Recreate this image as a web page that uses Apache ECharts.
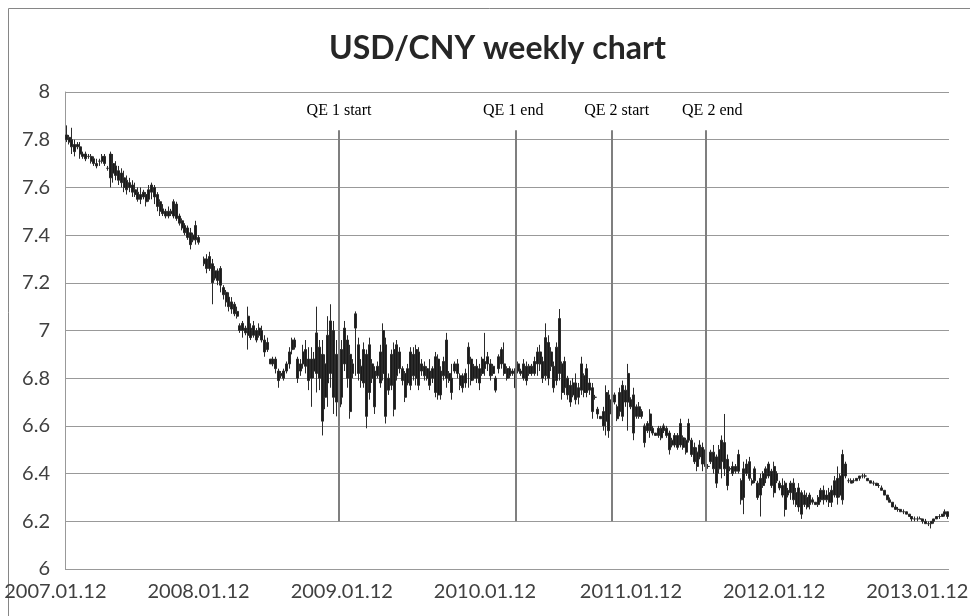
<!DOCTYPE html>
<html>
<head>
<meta charset="utf-8">
<title>USD/CNY weekly chart</title>
<script src="https://cdn.jsdelivr.net/npm/echarts@6/dist/echarts.min.js"></script>
<style>
html, body { margin: 0; padding: 0; background: #fff; }
#chart { width: 970px; height: 616px; }
</style>
</head>
<body>
<div id="chart"></div>
<script>
// weekly USD/CNY, one entry per week starting Fri 2007-01-12 (null = no quote)
var weekLow = [
  7.79, 7.78, 7.74, 7.73, 7.76, 7.72, 7.72, 7.71, 7.72, 7.70,
  7.69, 7.68, 7.69, 7.70, 7.69, 7.67, 7.60, 7.62, 7.63, 7.61,
  7.60, 7.58, 7.57, 7.58, 7.56, 7.56, 7.54, 7.53, 7.55, 7.52,
  7.54, 7.55, 7.53, 7.50, 7.48, 7.48, 7.47, 7.47, 7.48, 7.47,
  7.46, 7.44, 7.42, 7.40, 7.38, 7.34, 7.37, 7.36, 7.36, null,
  7.27, 7.24, 7.25, 7.11, 7.21, 7.19, 7.16, 7.13, 7.10, 7.08,
  7.07, 7.06, 7.05, 6.99, 6.97, 6.98, 6.92, 6.96, 6.97, 6.95,
  6.97, 6.95, 6.89, 6.91, 6.86, 6.85, 6.82, 6.76, 6.80, 6.79,
  6.82, 6.84, 6.90, 6.92, 6.78, 6.81, 6.84, 6.82, 6.75, 6.68,
  6.80, 6.74, 6.75, 6.56, 6.67, 6.68, 6.76, 6.65, 6.64, 6.60,
  6.69, 6.83, 6.76, 6.63, 6.80, 6.81, 6.79, 6.76, 6.76, 6.59,
  6.71, 6.78, 6.65, 6.80, 6.76, 6.79, 6.61, 6.73, 6.75, 6.64,
  6.79, 6.82, 6.77, 6.70, 6.77, 6.75, 6.79, 6.77, 6.75, 6.81,
  6.79, 6.79, 6.75, 6.78, 6.72, 6.71, 6.71, 6.79, 6.76, 6.78,
  6.71, 6.82, 6.80, 6.75, 6.74, 6.76, 6.76, 6.77, 6.79, 6.78,
  6.75, 6.81, 6.81, 6.83, 6.79, 6.81, 6.74, 6.82, 6.84, 6.81,
  6.79, 6.80, 6.81, 6.74, 6.82, 6.81, 6.79, 6.77, 6.81, 6.81,
  6.81, 6.81, 6.83, 6.78, 6.79, 6.77, 6.83, 6.74, 6.77, 6.79,
  6.71, 6.73, 6.71, 6.68, 6.72, 6.69, 6.69, 6.73, 6.72, 6.72,
  6.73, 6.63, 6.71, 6.63, 6.63, 6.58, 6.56, 6.55, 6.63, 6.69,
  6.62, 6.64, 6.62, 6.68, 6.58, 6.67, 6.54, 6.63, 6.63, 6.63,
  6.51, 6.57, 6.55, 6.56, 6.56, 6.55, 6.54, 6.57, 6.55, 6.48,
  6.51, 6.51, 6.50, 6.51, 6.50, 6.48, 6.53, 6.47, 6.44, 6.41,
  6.46, 6.41, 6.40, 6.42, 6.44, 6.40, 6.34, 6.40, 6.38, 6.39,
  6.33, 6.41, 6.39, 6.40, 6.40, 6.27, 6.23, 6.39, 6.37, 6.35,
  6.36, 6.29, 6.22, 6.34, 6.36, 6.38, 6.34, 6.30, 6.36, 6.33,
  6.30, 6.22, 6.30, 6.29, 6.27, 6.26, 6.24, 6.21, 6.26, 6.25,
  6.25, 6.27, 6.27, 6.26, 6.28, 6.27, 6.28, 6.26, 6.26, 6.30,
  6.27, 6.30, 6.27, 6.38, 6.36, 6.36, 6.36, 6.37, 6.37, 6.38,
  6.38, 6.37, 6.36, 6.35, 6.35, 6.34, 6.33, 6.31, 6.29, 6.28,
  6.26, 6.25, 6.24, 6.24, 6.23, 6.23, 6.22, 6.20, 6.20, 6.20,
  6.21, 6.19, 6.19, 6.18, 6.17, 6.19, 6.21, 6.21, 6.22, 6.22, 6.21
]
var weekHigh = [
  7.86, 7.82, 7.85, 7.80, 7.79, 7.79, 7.75, 7.75, 7.74, 7.74,
  7.73, 7.72, 7.72, 7.74, 7.74, 7.69, 7.75, 7.74, 7.71, 7.69,
  7.68, 7.67, 7.65, 7.64, 7.63, 7.62, 7.60, 7.60, 7.59, 7.58,
  7.61, 7.62, 7.61, 7.58, 7.55, 7.53, 7.51, 7.52, 7.51, 7.55,
  7.54, 7.49, 7.47, 7.45, 7.44, 7.43, 7.41, 7.46, 7.40, null,
  7.31, 7.32, 7.33, 7.30, 7.27, 7.26, 7.27, 7.19, 7.17, 7.16,
  7.14, 7.12, 7.10, 7.03, 7.04, 7.02, 7.10, 7.03, 7.04, 7.01,
  7.03, 7.02, 6.98, 6.97, 6.88, 6.89, 6.89, 6.84, 6.83, 6.84,
  6.87, 6.93, 6.97, 6.97, 6.89, 6.88, 6.94, 6.96, 6.93, 6.93,
  6.91, 7.10, 6.96, 6.96, 6.90, 7.06, 7.11, 7.04, 6.96, 6.97,
  6.96, 7.04, 6.98, 6.94, 6.88, 7.08, 6.97, 6.88, 6.95, 6.92,
  6.97, 6.88, 6.85, 6.87, 6.94, 7.03, 6.97, 6.82, 6.92, 6.95,
  6.96, 6.93, 6.85, 6.83, 6.86, 6.93, 6.93, 6.94, 6.93, 6.88,
  6.87, 6.85, 6.88, 6.85, 6.91, 6.90, 6.85, 6.89, 6.99, 6.83,
  6.86, 6.87, 6.88, 6.82, 6.82, 6.84, 6.95, 6.89, 6.86, 6.88,
  6.86, 6.89, 6.99, 6.91, 6.88, 6.86, 6.81, 6.90, 6.93, 6.95,
  6.85, 6.85, 6.84, 6.86, 6.87, 6.84, 6.88, 6.87, 6.86, 6.86,
  6.89, 6.93, 6.94, 6.89, 7.03, 6.98, 6.93, 6.87, 6.95, 7.09,
  6.87, 6.89, 6.81, 6.79, 6.80, 6.82, 6.78, 6.89, 6.82, 6.86,
  6.80, 6.78, 6.73, 6.68, 6.64, 6.68, 6.77, 6.75, 6.73, 6.74,
  6.69, 6.76, 6.79, 6.77, 6.86, 6.72, 6.76, 6.69, 6.70, 6.67,
  6.61, 6.62, 6.67, 6.60, 6.57, 6.60, 6.60, 6.61, 6.60, 6.58,
  6.55, 6.57, 6.57, 6.63, 6.56, 6.55, 6.63, 6.55, 6.53, 6.51,
  6.54, 6.53, 6.52, 6.44, 6.50, 6.52, 6.48, 6.52, 6.56, 6.65,
  6.48, 6.43, 6.45, 6.44, 6.50, 6.38, 6.45, 6.46, 6.47, 6.38,
  6.43, 6.37, 6.40, 6.41, 6.43, 6.45, 6.42, 6.45, 6.41, 6.37,
  6.38, 6.37, 6.34, 6.37, 6.38, 6.34, 6.36, 6.33, 6.33, 6.32,
  6.32, 6.30, 6.28, 6.31, 6.34, 6.35, 6.33, 6.34, 6.35, 6.39,
  6.43, 6.40, 6.50, 6.45, 6.38, 6.38, 6.38, 6.38, 6.39, 6.40,
  6.40, 6.38, 6.37, 6.37, 6.36, 6.36, 6.35, 6.33, 6.31, 6.30,
  6.28, 6.27, 6.26, 6.25, 6.25, 6.24, 6.23, 6.22, 6.22, 6.22,
  6.22, 6.21, 6.21, 6.20, 6.20, 6.21, 6.22, 6.23, 6.23, 6.25, 6.24
]
var weekOpen = [
  7.80, 7.81, 7.80, 7.78, 7.78, 7.77, 7.74, 7.74, 7.73, 7.73,
  7.72, 7.70, 7.71, 7.71, 7.73, 7.68, 7.74, 7.66, 7.69, 7.67,
  7.66, 7.64, 7.63, 7.60, 7.61, 7.59, 7.58, 7.57, 7.56, 7.57,
  7.55, 7.58, 7.60, 7.57, 7.54, 7.51, 7.50, 7.48, 7.49, 7.48,
  7.53, 7.48, 7.46, 7.44, 7.43, 7.41, 7.38, 7.38, 7.39, null,
  7.28, 7.30, 7.26, 7.28, 7.22, 7.25, 7.26, 7.18, 7.16, 7.14,
  7.09, 7.11, 7.08, 7.02, 7.00, 7.01, 6.98, 7.01, 6.98, 7.00,
  6.98, 7.00, 6.96, 6.92, 6.88, 6.86, 6.88, 6.83, 6.81, 6.80,
  6.83, 6.86, 6.92, 6.96, 6.88, 6.83, 6.86, 6.92, 6.88, 6.80,
  6.88, 6.82, 6.93, 6.90, 6.72, 6.78, 6.82, 7.00, 6.70, 6.92,
  6.72, 6.86, 6.96, 6.90, 6.82, 7.07, 6.94, 6.85, 6.78, 6.90,
  6.74, 6.86, 6.83, 6.81, 6.78, 6.82, 6.94, 6.80, 6.77, 6.92,
  6.81, 6.91, 6.84, 6.82, 6.78, 6.77, 6.90, 6.80, 6.91, 6.83,
  6.85, 6.80, 6.83, 6.84, 6.74, 6.88, 6.83, 6.81, 6.80, 6.82,
  6.80, 6.83, 6.86, 6.81, 6.76, 6.82, 6.86, 6.88, 6.80, 6.85,
  6.78, 6.82, 6.87, 6.89, 6.86, 6.82, 6.80, 6.84, 6.92, 6.86,
  6.84, 6.81, 6.82, 6.84, 6.83, 6.83, 6.80, 6.85, 6.82, 6.85,
  6.82, 6.86, 6.91, 6.87, 6.81, 6.95, 6.85, 6.85, 6.79, 6.82,
  6.86, 6.76, 6.80, 6.77, 6.73, 6.78, 6.76, 6.75, 6.81, 6.74,
  6.78, 6.76, 6.72, 6.67, 6.64, 6.60, 6.62, 6.73, 6.65, 6.70,
  6.68, 6.66, 6.64, 6.75, 6.70, 6.71, 6.73, 6.68, 6.64, 6.66,
  6.60, 6.58, 6.58, 6.59, 6.57, 6.56, 6.59, 6.58, 6.56, 6.57,
  6.54, 6.52, 6.56, 6.52, 6.55, 6.54, 6.54, 6.54, 6.51, 6.49,
  6.47, 6.51, 6.43, 6.43, 6.45, 6.49, 6.47, 6.42, 6.45, 6.53,
  6.46, 6.42, 6.43, 6.43, 6.41, 6.37, 6.30, 6.40, 6.45, 6.37,
  6.37, 6.36, 6.31, 6.35, 6.38, 6.39, 6.41, 6.32, 6.40, 6.36,
  6.35, 6.36, 6.31, 6.32, 6.36, 6.32, 6.26, 6.32, 6.27, 6.30,
  6.27, 6.29, 6.28, 6.27, 6.29, 6.33, 6.31, 6.28, 6.33, 6.31,
  6.38, 6.31, 6.29, 6.44, 6.37, 6.37, 6.37, 6.37, 6.38, 6.39,
  6.39, 6.38, 6.37, 6.36, 6.36, 6.35, 6.34, 6.33, 6.31, 6.29,
  6.28, 6.26, 6.25, 6.25, 6.24, 6.24, 6.23, 6.22, 6.21, 6.21,
  6.21, 6.21, 6.20, 6.19, 6.19, 6.20, 6.21, 6.22, 6.22, 6.23, 6.24
]
var weekClose = [
  7.82, 7.79, 7.77, 7.75, 7.77, 7.74, 7.73, 7.72, 7.73, 7.71,
  7.70, 7.69, 7.71, 7.73, 7.70, 7.68, 7.64, 7.70, 7.65, 7.63,
  7.62, 7.60, 7.59, 7.62, 7.58, 7.57, 7.55, 7.55, 7.58, 7.54,
  7.59, 7.61, 7.56, 7.52, 7.50, 7.49, 7.48, 7.50, 7.50, 7.54,
  7.47, 7.45, 7.43, 7.41, 7.39, 7.36, 7.40, 7.44, 7.37, null,
  7.30, 7.26, 7.31, 7.20, 7.25, 7.21, 7.19, 7.15, 7.12, 7.10,
  7.12, 7.07, 7.06, 7.00, 7.03, 6.99, 7.06, 6.97, 7.02, 6.96,
  7.01, 6.96, 6.91, 6.95, 6.86, 6.88, 6.84, 6.79, 6.82, 6.83,
  6.86, 6.91, 6.96, 6.93, 6.80, 6.86, 6.91, 6.85, 6.79, 6.88,
  6.83, 6.99, 6.80, 6.62, 6.86, 6.98, 7.04, 6.72, 6.90, 6.68,
  6.92, 7.01, 6.80, 6.66, 6.86, 7.01, 6.82, 6.79, 6.92, 6.64,
  6.94, 6.80, 6.68, 6.85, 6.91, 7.00, 6.64, 6.75, 6.90, 6.67,
  6.94, 6.84, 6.79, 6.72, 6.84, 6.91, 6.81, 6.92, 6.77, 6.86,
  6.81, 6.84, 6.77, 6.80, 6.89, 6.73, 6.73, 6.87, 6.96, 6.79,
  6.74, 6.86, 6.82, 6.77, 6.81, 6.78, 6.93, 6.79, 6.85, 6.80,
  6.84, 6.88, 6.84, 6.86, 6.81, 6.85, 6.75, 6.89, 6.86, 6.82,
  6.80, 6.84, 6.83, 6.76, 6.86, 6.82, 6.86, 6.79, 6.85, 6.82,
  6.87, 6.91, 6.86, 6.80, 6.97, 6.80, 6.91, 6.76, 6.93, 7.05,
  6.74, 6.87, 6.73, 6.70, 6.78, 6.71, 6.72, 6.86, 6.74, 6.84,
  6.75, 6.66, 6.72, 6.65, 6.63, 6.66, 6.74, 6.58, 6.71, 6.73,
  6.63, 6.74, 6.77, 6.70, 6.82, 6.68, 6.57, 6.64, 6.68, 6.64,
  6.53, 6.61, 6.65, 6.57, 6.56, 6.59, 6.55, 6.60, 6.59, 6.50,
  6.52, 6.56, 6.51, 6.61, 6.51, 6.49, 6.61, 6.48, 6.45, 6.43,
  6.52, 6.44, 6.50, 6.43, 6.49, 6.42, 6.36, 6.50, 6.54, 6.42,
  6.35, 6.42, 6.40, 6.41, 6.48, 6.29, 6.42, 6.44, 6.38, 6.36,
  6.42, 6.30, 6.38, 6.40, 6.42, 6.44, 6.35, 6.43, 6.37, 6.34,
  6.31, 6.25, 6.33, 6.36, 6.29, 6.27, 6.34, 6.23, 6.31, 6.26,
  6.31, 6.28, 6.27, 6.30, 6.33, 6.29, 6.29, 6.32, 6.28, 6.37,
  6.30, 6.39, 6.48, 6.39, 6.37, 6.36, 6.37, 6.38, 6.39, 6.39,
  6.39, 6.37, 6.36, 6.36, 6.35, 6.35, 6.33, 6.31, 6.29, 6.28,
  6.26, 6.25, 6.25, 6.24, 6.24, 6.23, 6.22, 6.21, 6.21, 6.21,
  6.21, 6.20, 6.19, 6.19, 6.20, 6.21, 6.22, 6.22, 6.23, 6.24, 6.22
]

// x axis: labelled weeks and their texts
var tickWeeks = [0, 52, 104, 156, 209, 261, 313]
var tickLabels = ['2007.01.12', '2008.01.12', '2009.01.12', '2010.01.12', '2011.01.12', '2012.01.12', '2013.01.12']

// QE markers
var qeNames = ['QE 1 start', 'QE 1 end', 'QE 2 start', 'QE 2 end']
var qeWeeks = ['2008-12-05', '2010-02-26', '2010-10-29', '2011-06-24']
var qeRange = [6.2, 7.84]
var qeLabelShift = [0, -4, 10, 14]

var weeks = []
var t0 = Date.UTC(2007, 0, 12)
for (var i = 0; i < weekLow.length; i++) {
  weeks.push(new Date(t0 + i * 7 * 86400000).toISOString().slice(0, 10))
}

var candles = weeks.map(function (w, i) {
  if (weekLow[i] == null) return ['-', '-', '-', '-']
  return [weekOpen[i], weekClose[i], weekLow[i], weekHigh[i]]
})

var sans = 'Lato, "Open Sans", sans-serif'

var chart = echarts.init(document.getElementById('chart'))
chart.setOption({
  animation: false,
  backgroundColor: '#fff',
  graphic: [{
    type: 'rect',
    shape: { x: 8.5, y: 8.5, width: 1000, height: 700 },
    style: { fill: 'none', stroke: '#868686', lineWidth: 1 },
    silent: true
  }],
  title: {
    text: 'USD/CNY weekly chart',
    left: 324,
    top: 28,
    textStyle: { fontFamily: sans, fontSize: 32, fontWeight: 'bold', color: '#262626' }
  },
  grid: { left: 65, right: 21, top: 92, bottom: 47, containLabel: false, outerBoundsMode: 'none' },
  xAxis: {
    type: 'category',
    data: weeks,
    boundaryGap: true,
    axisLine: { show: false },
    axisTick: { show: false },
    axisLabel: {
      interval: function (index) { return tickWeeks.indexOf(index) >= 0 },
      formatter: function (value, index) { return tickLabels[tickWeeks.indexOf(index)] },
      fontFamily: sans,
      fontSize: 20,
      color: '#404040',
      margin: 13,
      padding: [0, 22, 0, 0],
      hideOverlap: false
    },
    splitLine: { show: false }
  },
  yAxis: {
    type: 'value',
    min: 6,
    max: 8,
    interval: 0.2,
    axisLine: { show: true, lineStyle: { color: '#999', width: 1 } },
    axisTick: { show: false },
    axisLabel: { fontFamily: sans, fontSize: 20, color: '#404040', margin: 15 },
    splitLine: { lineStyle: { color: '#999', width: 1 } }
  },
  series: [{
    name: 'USD/CNY',
    type: 'candlestick',
    data: candles,
    barWidth: 2.5,
    itemStyle: {
      color: '#1a1a1a',
      color0: '#1a1a1a',
      borderColor: '#2a2a2a',
      borderColor0: '#2a2a2a',
      borderWidth: 1
    },
    markLine: {
      silent: true,
      symbol: 'none',
      lineStyle: { color: '#7f7f7f', width: 2, type: 'solid' },
      label: {
        position: 'end',
        distance: 11,
        formatter: '{b}',
        fontFamily: '"Liberation Serif", serif',
        fontSize: 16,
        color: '#000'
      },
      data: qeWeeks.map(function (w, k) {
        var s = qeLabelShift[k]
        return [{
          name: qeNames[k],
          coord: [w, qeRange[0]],
          label: { padding: s >= 0 ? [0, 0, 0, s] : [0, -s, 0, 0] }
        }, { coord: [w, qeRange[1]] }]
      })
    }
  }]
})
</script>
</body>
</html>
